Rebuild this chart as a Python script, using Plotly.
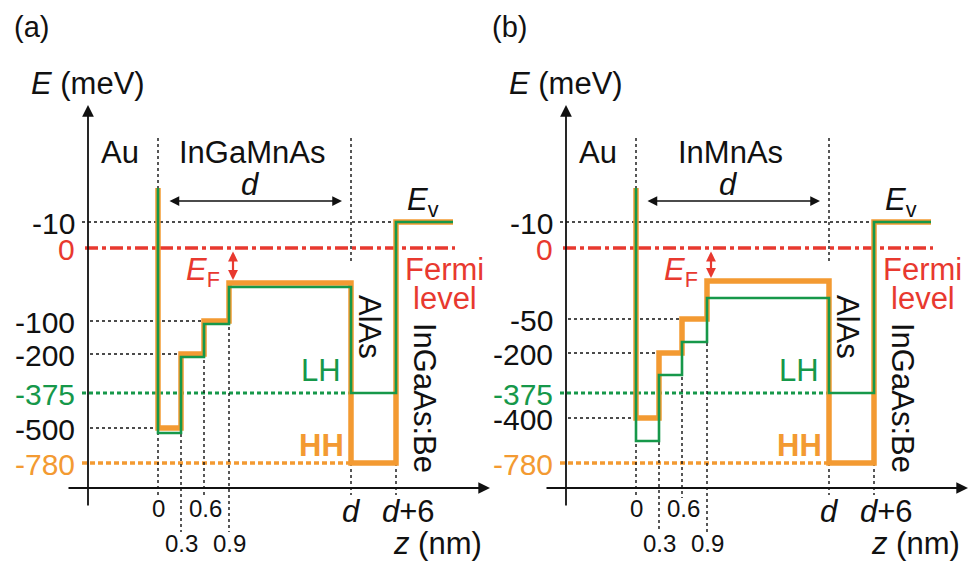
import plotly.graph_objects as go

# ---------------- data ----------------
panel_tags = ["(a)", "(b)"]
layer_names = ["InGaMnAs", "InMnAs"]
z_tick_labels = ["0", "0.3", "0.6", "0.9", "d", "d+6"]
energy_labels_a = ["-10", "0", "-100", "-200", "-375", "-500", "-780"]
energy_labels_b = ["-10", "0", "-50", "-200", "-375", "-400", "-780"]
# step levels per region [0-0.3, 0.3-0.6, 0.6-0.9, 0.9-d, d-(d+6), beyond d+6]
hh_steps_a = ["-500", "-200", "-100", "HHtop", "-780", "-10"]
lh_steps_a = ["LH1", "LH2", "LH3", "LHtop", "-375", "-10"]
hh_steps_b = ["-400", "-200", "-50", "HHtop", "-780", "-10"]
lh_steps_b = ["LH1", "LH2", "LH3", "LHtop", "-375", "-10"]

# ---------------- schematic layout (not to scale) ----------------
OFFSETS = [0, 478]
XPOS = {"0": 158, "0.3": 181, "0.6": 204, "0.9": 229, "d": 351, "d+6": 396, "end": 453}
YPOS_A = {"top": 188, "-10": 222, "0": 248, "-100": 321, "-200": 354, "-375": 393,
          "-500": 428, "-780": 463, "HHtop": 283, "LH1": 433, "LH2": 357, "LH3": 324, "LHtop": 287}
YPOS_B = {"top": 188, "-10": 222, "0": 248, "-50": 319, "-200": 353, "-375": 393,
          "-400": 418, "-780": 463, "HHtop": 281, "LH1": 441, "LH2": 375, "LH3": 342, "LHtop": 298}

ORANGE = "#F39A32"
GREEN = "#16984A"
RED = "#E8392F"
BLACK = "#111111"
FONT = "Liberation Sans, Arial, sans-serif"
LBL = 31   # label font size
TCK = 30   # y tick font size
ZTK = 24   # z tick font size

fig = go.Figure()
shapes = []
ann = []


def txt(x, y, s, size=LBL, color=BLACK, xanchor="center", angle=0):
    ann.append(dict(x=x, y=y, xref="x", yref="y", text=s, showarrow=False,
                    font=dict(family=FONT, size=size, color=color),
                    xanchor=xanchor, yanchor="middle", textangle=angle))


def line(x0, y0, x1, y1, color=BLACK, width=1.4, dash="3px,3px"):
    shapes.append(dict(type="line", x0=x0, y0=y0, x1=x1, y1=y1, xref="x", yref="y",
                       line=dict(color=color, width=width, dash=dash), layer="below"))


def arrow(x, y, ax, ay, color=BLACK, width=1.5, both=False, size=1.4):
    ann.append(dict(x=x, y=y, ax=ax, ay=ay, xref="x", yref="y", axref="x", ayref="y",
                    text="", showarrow=True, arrowhead=2, arrowsize=size, arrowwidth=width,
                    arrowcolor=color, arrowside="end+start" if both else "end",
                    startarrowhead=2, startarrowsize=size,
                    font=dict(family=FONT, size=12)))


def path(steps, ypos, off):
    nodes = ["0", "0.3", "0.6", "0.9", "d", "d+6", "end"]
    xs = [XPOS["0"] + off]
    ys = [ypos["top"]]
    for i, lv in enumerate(steps):
        xs += [XPOS[nodes[i]] + off, XPOS[nodes[i + 1]] + off]
        ys += [ypos[lv], ypos[lv]]
    return xs, ys


panels = [
    (energy_labels_a, hh_steps_a, lh_steps_a, YPOS_A),
    (energy_labels_b, hh_steps_b, lh_steps_b, YPOS_B),
]

for p, (elabels, hh, lh, Y) in enumerate(panels):
    o = OFFSETS[p]
    X = {k: v + o for k, v in XPOS.items()}
    yaxis_x = 88 + o

    # axes arrows
    arrow(yaxis_x, 105, yaxis_x, 507, width=1.8, size=1.3)
    arrow(490 + o, 488, 67 + o, 488, width=1.8, size=1.3)

    # reference lines
    line(82 + o, Y["-10"], X["d+6"], Y["-10"])
    line(90 + o, Y[elabels[2]], X["0.6"], Y[elabels[2]])
    line(90 + o, Y["-200"], X["0.3"], Y["-200"])
    line(90 + o, Y[elabels[5]], X["0"], Y[elabels[5]])
    line(82 + o, Y["-375"], X["d"], Y["-375"], color=GREEN, width=3, dash="4px,3px")
    line(82 + o, Y["-780"], X["d"], Y["-780"], color=ORANGE, width=3.5, dash="5px,3px")
    line(85 + o, Y["0"], X["end"] + 2, Y["0"], color=RED, width=3.5, dash="13px,4px,4px,4px")

    # vertical markers
    line(X["0"], 138, X["0"], 498)
    line(X["0.3"], Y[elabels[5]], X["0.3"], 532)
    line(X["0.6"], Y["-200"], X["0.6"], 498)
    line(X["0.9"], Y[elabels[2]], X["0.9"], 532)
    line(X["d"], 138, X["d"], 262)
    line(X["d"], Y["-780"], X["d"], 495)
    line(X["d+6"], Y["-780"], X["d+6"], 495)

    # bands
    xs, ys = path(hh, Y, o)
    fig.add_trace(go.Scatter(x=xs, y=ys, mode="lines", line=dict(color=ORANGE, width=5.5),
                             hoverinfo="skip", showlegend=False))
    xs, ys = path(lh, Y, o)
    fig.add_trace(go.Scatter(x=xs, y=ys, mode="lines", line=dict(color=GREEN, width=2.6),
                             hoverinfo="skip", showlegend=False))

    # y tick labels
    colors = {"0": RED, "-375": GREEN, "-780": ORANGE}
    for lab in elabels:
        txt(77 + o, Y[lab] + 1, lab, size=TCK, color=colors.get(lab, BLACK), xanchor="right")

    # z tick labels
    txt(X["0"], 508, z_tick_labels[0], size=ZTK)
    txt(X["0.3"], 543, z_tick_labels[1], size=ZTK)
    txt(X["0.6"] + 1, 508, z_tick_labels[2], size=ZTK)
    txt(X["0.9"], 543, z_tick_labels[3], size=ZTK)
    txt(X["d"], 511, "<i>d</i>", size=LBL)
    txt(X["d+6"] + 12, 511, "<i>d</i>+6", size=LBL)
    txt(437 + o, 543, "<i>z</i> (nm)", size=LBL)

    # labels
    txt(31 + o, 27, panel_tags[p], size=29)
    txt(88 + o, 83, "<i>E</i> (meV)", size=LBL)
    txt(120 + o, 152, "Au", size=LBL)
    txt(252 + o, 152, layer_names[p], size=LBL)
    txt(250 + o, 184, "<i>d</i>", size=LBL)
    arrow(X["d"] - 9, 201, X["0"] + 10, 201, width=1.5, both=True, size=1.3)
    txt(423 + o, 202, "<i>E</i><sub>v</sub>", size=LBL)
    txt(444 + o, 269, "Fermi", size=LBL, color=RED)
    txt(445 + o, 298, "level", size=LBL, color=RED)
    txt(203 + o, 272, "<i>E</i><sub>F</sub>", size=LBL, color=RED)
    arrow(X["0.9"] + 4, Y["HHtop"] - 3, X["0.9"] + 4, Y["0"] + 2, color=RED, width=2.2, both=True, size=0.9)
    txt(370 + o, 327, "AlAs", size=LBL, angle=90)
    txt(425 + o, 398, "InGaAs:Be", size=LBL, angle=90)
    txt(321 + o, 370, "LH", size=LBL, color=GREEN)
    txt(321 + o, 445, "<b>HH</b>", size=LBL, color=ORANGE)

fig.update_layout(
    width=969, height=570,
    margin=dict(l=0, r=0, t=0, b=0),
    paper_bgcolor="white", plot_bgcolor="white",
    xaxis=dict(range=[0, 969], visible=False, fixedrange=True),
    yaxis=dict(range=[570, 0], visible=False, fixedrange=True),
    shapes=shapes, annotations=ann,
    showlegend=False,
)
fig.write_html("out.html", config={"displayModeBar": False},
               post_script="document.body.style.margin='0';document.body.style.overflow='hidden';")
